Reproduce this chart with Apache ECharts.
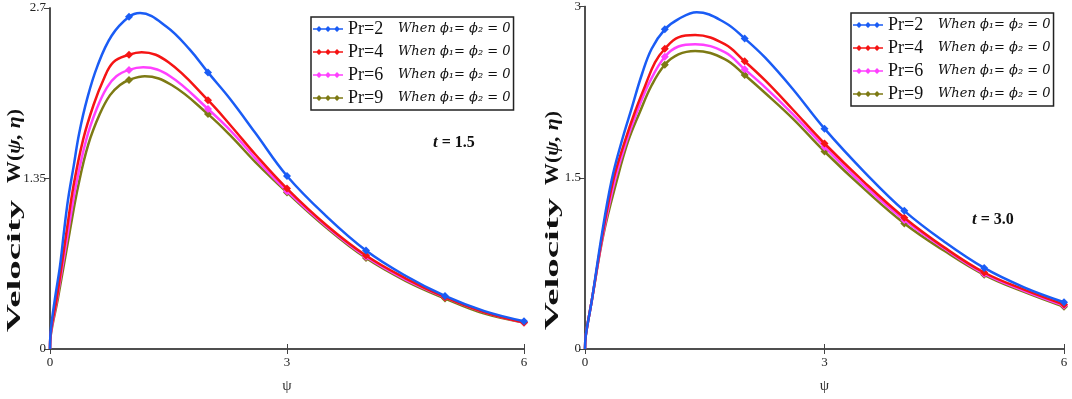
<!DOCTYPE html>
<html>
<head>
<meta charset="utf-8">
<script src="https://cdn.jsdelivr.net/npm/echarts@6/dist/echarts.min.js"></script>
<style>
  html, body { margin: 0; padding: 0; background: #fff; }
  #chart { width: 1072px; height: 399px; }
</style>
</head>
<body>
<div id="chart"></div>
<script>
// legend names
const names = ['Pr=2', 'Pr=4', 'Pr=6', 'Pr=9']
const colors = ['#1a5cf5', '#f51414', '#ff40ff', '#7d7a14']

// t = 1.5 (left panel), [psi, W]
const left_pr2 = [[0,0],[0.01,0.15],[0.063,0.40],[0.127,0.66],[0.177,0.93],[0.23,1.19],[0.30,1.45],[0.37,1.71],[0.47,1.98],[0.60,2.24],[0.78,2.48],[1,2.63],[1.14,2.66],[1.48,2.55],[1.77,2.37],[2,2.19],[2.28,1.98],[2.6,1.71],[3,1.37],[3.5,1.05],[4,0.78],[4.5,0.58],[5,0.42],[5.5,0.30],[6,0.22]]
const left_pr4 = [[0,0],[0.01,0.13],[0.085,0.40],[0.21,0.93],[0.30,1.30],[0.42,1.66],[0.55,1.93],[0.675,2.13],[0.80,2.27],[1,2.33],[1.16,2.35],[1.5,2.27],[2,1.97],[2.3,1.76],[2.6,1.54],[3,1.27],[3.5,0.98],[4,0.74],[4.5,0.56],[5,0.41],[5.5,0.29],[6,0.21]]
const left_pr6 = [[0,0],[0.01,0.12],[0.09,0.40],[0.23,0.93],[0.33,1.30],[0.46,1.66],[0.59,1.90],[0.72,2.07],[0.84,2.16],[1,2.21],[1.18,2.23],[1.52,2.16],[2,1.90],[2.3,1.72],[2.6,1.51],[3,1.25],[3.5,0.97],[4,0.73],[4.5,0.55],[5,0.41],[5.5,0.29],[6,0.21]]
const left_pr9 = [[0,0],[0.01,0.11],[0.10,0.40],[0.25,0.93],[0.36,1.30],[0.485,1.62],[0.63,1.86],[0.76,2.01],[0.886,2.09],[1,2.13],[1.20,2.16],[1.54,2.09],[2,1.86],[2.3,1.68],[2.6,1.48],[3,1.24],[3.5,0.96],[4,0.72],[4.5,0.54],[5,0.40],[5.5,0.28],[6,0.21]]

// t = 3.0 (right panel)
const right_pr2 = [[0,0],[0.01,0.12],[0.084,0.42],[0.21,1.00],[0.334,1.48],[0.46,1.82],[0.585,2.11],[0.71,2.40],[0.835,2.63],[1,2.80],[1.17,2.89],[1.40,2.95],[1.75,2.86],[2,2.72],[2.26,2.55],[2.6,2.28],[3,1.93],[3.5,1.55],[4,1.21],[4.5,0.94],[5,0.71],[5.5,0.54],[6,0.41]]
const right_pr4 = [[0,0],[0.01,0.12],[0.084,0.42],[0.22,1.00],[0.355,1.48],[0.50,1.82],[0.627,2.08],[0.75,2.30],[0.877,2.51],[1,2.63],[1.17,2.73],[1.38,2.75],[1.75,2.67],[2,2.52],[2.26,2.35],[2.6,2.10],[3,1.80],[3.5,1.46],[4,1.15],[4.5,0.89],[5,0.67],[5.5,0.52],[6,0.39]]
const right_pr6 = [[0,0],[0.01,0.12],[0.084,0.42],[0.225,1.00],[0.376,1.48],[0.52,1.82],[0.67,2.11],[0.81,2.34],[1,2.56],[1.17,2.65],[1.38,2.67],[1.75,2.60],[2,2.45],[2.26,2.29],[2.6,2.06],[3,1.77],[3.5,1.43],[4,1.13],[4.5,0.88],[5,0.66],[5.5,0.51],[6,0.38]]
const right_pr9 = [[0,0],[0.01,0.12],[0.084,0.42],[0.23,1.00],[0.40,1.48],[0.54,1.82],[0.69,2.08],[0.835,2.31],[1,2.49],[1.17,2.58],[1.38,2.61],[1.75,2.54],[2,2.40],[2.26,2.24],[2.6,2.02],[3,1.73],[3.5,1.40],[4,1.10],[4.5,0.86],[5,0.65],[5.5,0.50],[6,0.37]]

// axis ticks
const xTicks = { min: 0, max: 6, interval: 3 }
const leftY = { min: 0, max: 2.7, interval: 1.35 }
const rightY = { min: 0, max: 3, interval: 1.5 }

const serif = 'Liberation Serif, Times New Roman, serif'
const frame = '#444'

let myChart = echarts.init(document.getElementById('chart'))

function xAxes(grid) {
  return [
    {
      type: 'value', gridIndex: grid, min: xTicks.min, max: xTicks.max, interval: xTicks.interval,
      name: 'ψ', nameLocation: 'middle', nameGap: 30,
      nameTextStyle: { fontFamily: serif, fontSize: 15, color: '#333' },
      axisLine: { lineStyle: { color: frame, width: 1.5 } },
      axisTick: { inside: true, length: 5, lineStyle: { color: frame } },
      axisLabel: { fontFamily: serif, fontSize: 13, color: '#222', margin: 7 },
      splitLine: { show: false }
    },
    {
      type: 'value', gridIndex: grid, position: 'top', min: xTicks.min, max: xTicks.max, interval: xTicks.interval,
      axisLine: { lineStyle: { color: frame, width: 1.5 } },
      axisTick: { inside: true, length: 5, lineStyle: { color: frame } },
      axisLabel: { show: false },
      splitLine: { show: false }
    }
  ]
}

function yAxes(grid, ticks) {
  return [
    {
      type: 'value', gridIndex: grid, min: ticks.min, max: ticks.max, interval: ticks.interval,
      axisLine: { show: true, lineStyle: { color: frame, width: 1.5 } },
      axisTick: { show: true, length: 5, lineStyle: { color: frame } },
      axisLabel: { fontFamily: serif, fontSize: 13, color: '#222', margin: 4 },
      splitLine: { show: false }
    },
    {
      type: 'value', gridIndex: grid, position: 'right', min: ticks.min, max: ticks.max, interval: ticks.interval,
      axisLine: { show: true, lineStyle: { color: frame, width: 1.5 } },
      axisTick: { show: true, inside: true, length: 6, lineStyle: { color: frame } },
      axisLabel: { show: false },
      splitLine: { show: false }
    }
  ]
}

function markerAt(value) {
  return (value[0] >= 1 && Number.isInteger(value[0])) ? 'diamond' : 'none'
}

function curve(name, color, data, axis) {
  return {
    type: 'line', name: name, data: data,
    xAxisIndex: axis, yAxisIndex: axis,
    smooth: 0.4,
    symbol: markerAt, symbolSize: 8, showAllSymbol: true,
    itemStyle: { color: color },
    lineStyle: { color: color, width: 2.5 },
    z: 10 - names.indexOf(name)
  }
}

const legendIcon = 'path://M0,3.3H30V4.7H0Z M3,4L6,1L9,4L6,7Z M12,4L15,1L18,4L15,7Z M21,4L24,1L27,4L24,7Z'

function legendAt(left, top) {
  return {
    left: left, top: top, orient: 'vertical',
    data: names, icon: legendIcon, itemWidth: 30, itemHeight: 7, itemGap: 5, itemTextGap: 7,
    borderColor: '#222', borderWidth: 1.5, padding: [3, 3, 3, 2],
    selectedMode: false,
    formatter: function(name) {
      return '{a|' + name + '}{b|When ϕ₁= ϕ₂ = 0}'
    },
    textStyle: {
      rich: {
        a: { fontFamily: serif, fontSize: 18, color: '#111', width: 50, lineHeight: 22 },
        b: { fontFamily: 'DejaVu Serif, serif', fontStyle: 'italic', fontSize: 13, color: '#111', lineHeight: 22 }
      }
    }
  }
}

function tLabel(text, left, top) {
  return {
    text: '{i|t} = ' + text, left: left, top: top, padding: 0,
    textStyle: {
      fontFamily: serif, fontWeight: 'bold', fontSize: 16, color: '#111',
      rich: { i: { fontFamily: serif, fontStyle: 'italic', fontWeight: 'bold', fontSize: 17, color: '#111' } }
    }
  }
}

// the source figure is stretched along the axis title, so scale it the same way
function yTitle(x, yVel, yW) {
  return [
    {
      type: 'text', x: x, y: yVel, rotation: Math.PI / 2, scaleX: 2.05,
      style: {
        text: 'Velocity', align: 'center', verticalAlign: 'middle',
        fontFamily: serif, fontWeight: 'bold', fontSize: 19, fill: '#111'
      }
    },
    {
      type: 'text', x: x, y: yW, rotation: Math.PI / 2, scaleX: 1.15,
      style: {
        text: '{n|W(}{i|ψ, η}{n|)}', align: 'center', verticalAlign: 'middle',
        rich: {
          n: { fontFamily: serif, fontWeight: 'bold', fontSize: 19, fill: '#111' },
          i: { fontFamily: serif, fontWeight: 'bold', fontStyle: 'italic', fontSize: 19, fill: '#111' }
        }
      }
    }
  ]
}

let option = {
  animation: false,
  backgroundColor: '#fff',
  grid: [
    { left: 50, top: 8, right: 548, bottom: 48 },
    { left: 585, top: 4, right: 8, bottom: 50 }
  ],
  xAxis: xAxes(0).concat(xAxes(1)),
  yAxis: yAxes(0, leftY).concat(yAxes(1, rightY)),
  legend: [legendAt(311, 17), legendAt(851, 13)],
  title: [tLabel('1.5', 433, 134), tLabel('3.0', 972, 211)],
  graphic: yTitle(15, 266, 146).concat(yTitle(553, 264, 148)),
  series: [
    curve(names[0], colors[0], left_pr2, 0),
    curve(names[1], colors[1], left_pr4, 0),
    curve(names[2], colors[2], left_pr6, 0),
    curve(names[3], colors[3], left_pr9, 0),
    curve(names[0], colors[0], right_pr2, 2),
    curve(names[1], colors[1], right_pr4, 2),
    curve(names[2], colors[2], right_pr6, 2),
    curve(names[3], colors[3], right_pr9, 2)
  ]
}
myChart.setOption(option)
</script>
</body>
</html>
